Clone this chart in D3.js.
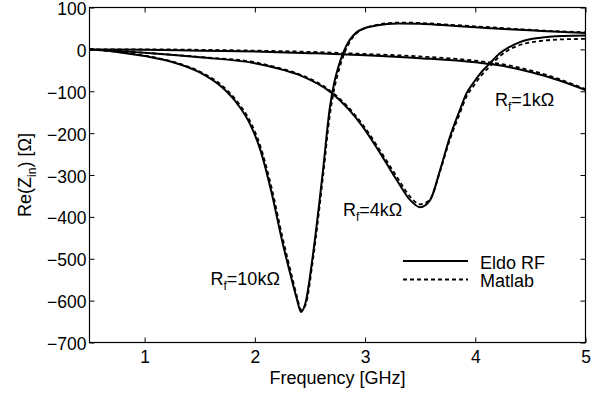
<!DOCTYPE html>
<html>
<head>
<meta charset="utf-8">
<script src="https://cdn.jsdelivr.net/npm/d3@7"></script>
<style>
  html, body { margin: 0; padding: 0; background: #fff; }
  svg text { font-family: "Liberation Sans", Arial, Helvetica, sans-serif; fill: #000; }
</style>
</head>
<body>
<svg id="chart" width="599" height="394"></svg>
<script>
// ---------------- data ----------------
const xTicks = [1, 2, 3, 4, 5];
const yTicks = [-700, -600, -500, -400, -300, -200, -100, 0, 100];

// Rf = 10 kOhm
const freq10k   = [0.5, 0.75, 1.0, 1.25, 1.5, 1.7, 1.85, 1.95, 2.05, 2.15, 2.25, 2.33, 2.38, 2.42, 2.46, 2.53, 2.62, 2.68, 2.72, 2.76, 2.81, 2.86, 2.92, 3.0, 3.1, 3.3, 3.5, 3.7, 4.0, 4.3, 4.6, 5.0];
const eldo10k   = [0, -6, -16, -30, -55, -90, -133, -175, -240, -340, -460, -545, -595, -627, -605, -485, -285, -140, -80, -40, -3, 22, 40, 51, 57, 62, 61, 58, 53, 48, 44, 39];
const matlab10k = [0, -6, -15, -29, -53, -86, -128, -168, -231, -328, -448, -535, -588, -622, -610, -497, -300, -158, -95, -52, -11, 17, 38, 51, 58, 64, 63, 60, 55, 50, 45, 41];

// Rf = 4 kOhm
const freq4k   = [0.5, 1.0, 1.5, 2.0, 2.2, 2.4, 2.7, 2.98, 3.14, 3.29, 3.41, 3.5, 3.59, 3.68, 3.77, 3.86, 3.92, 3.98, 4.05, 4.13, 4.22, 4.3, 4.41, 4.59, 4.8, 5.0];
const eldo4k   = [0, -8, -19, -33, -45, -61, -105, -185, -249, -313, -360, -377, -360, -289, -209, -145, -105, -81, -56, -34, -10, 4, 18, 28, 32, 33];
const matlab4k = [0, -8, -18, -31, -43, -59, -102, -180, -243, -305, -352, -370, -358, -292, -215, -153, -113, -89, -64, -41, -17, -2, 11, 20, 24, 25];

// Rf = 1 kOhm
const freq1k   = [0.5, 1.0, 1.5, 2.0, 2.5, 3.0, 3.5, 4.0, 4.3, 4.5, 4.75, 5.0];
const eldo1k   = [0, -1, -3, -5, -9, -14, -21, -31, -42, -54, -73, -97];
const matlab1k = [0, 0, -1, -3, -6, -11, -17, -27, -38, -50, -70, -95];

const legendLabels = ["Eldo RF", "Matlab"];

// ---------------- layout ----------------
const svg = d3.select("#chart");
const L = 89.5, R = 585.5, T = 7.5, B = 342.5;

const x = d3.scaleLinear().domain([0.5, 5]).range([L, R]);
const y = d3.scaleLinear().domain([-700, 100]).range([B, T]);

const FS = 18, TFS = 17.5;

svg.append("clipPath").attr("id", "clip")
  .append("rect").attr("x", L).attr("y", T).attr("width", R - L).attr("height", B - T);

// axes
const gB = svg.append("g").attr("transform", `translate(0,${B})`)
  .call(d3.axisBottom(x).tickValues(xTicks).tickSize(-5).tickPadding(8).tickFormat(d3.format("d")));
const gT = svg.append("g").attr("transform", `translate(0,${T})`)
  .call(d3.axisTop(x).tickValues(xTicks).tickSize(-5).tickFormat(""));
const gL = svg.append("g").attr("transform", `translate(${L},0)`)
  .call(d3.axisLeft(y).tickValues(yTicks).tickSize(-5).tickPadding(3).tickFormat(d3.format("d")));
const gR = svg.append("g").attr("transform", `translate(${R},0)`)
  .call(d3.axisRight(y).tickValues(yTicks).tickSize(-5).tickFormat(""));

[gB, gT, gL, gR].forEach(g => {
  g.select(".domain").remove();
  g.selectAll(".tick line").attr("stroke", "#000").attr("stroke-width", 1);
  g.selectAll(".tick text").attr("font-size", TFS).attr("font-family", "Liberation Sans, Arial, sans-serif");
});
gL.selectAll(".tick text").attr("dy", "0.4em");

svg.append("rect").attr("x", L).attr("y", T).attr("width", R - L).attr("height", B - T)
  .attr("fill", "none").attr("stroke", "#000").attr("stroke-width", 1.2);

// lines
const line = d3.line().x(d => x(d[0])).y(d => y(d[1])).curve(d3.curveMonotoneX);
const gLines = svg.append("g").attr("clip-path", "url(#clip)");
const series = [
  { f: freq10k, v: eldo10k, dash: null },
  { f: freq10k, v: matlab10k, dash: "4,3" },
  { f: freq4k, v: eldo4k, dash: null },
  { f: freq4k, v: matlab4k, dash: "4,3" },
  { f: freq1k, v: eldo1k, dash: null },
  { f: freq1k, v: matlab1k, dash: "4,3" }
];
series.forEach(s => {
  gLines.append("path")
    .datum(s.f.map((f, i) => [f, s.v[i]]))
    .attr("d", line)
    .attr("fill", "none")
    .attr("stroke", "#000")
    .attr("stroke-width", s.dash ? 1.8 : 2)
    .attr("stroke-dasharray", s.dash);
});

// curve labels
function rfLabel(px, py, val) {
  const t = svg.append("text").attr("x", px).attr("y", py).attr("font-size", FS);
  t.append("tspan").text("R");
  t.append("tspan").attr("font-size", 12).attr("dy", 5).text("f");
  t.append("tspan").attr("dy", -5).text("=" + val);
}
rfLabel(210.5, 285, "10kΩ");
rfLabel(343, 215.5, "4kΩ");
rfLabel(495, 106, "1kΩ");

// legend
const legY = [261, 279.5];
legendLabels.forEach((lab, i) => {
  svg.append("line").attr("x1", 403).attr("x2", 468).attr("y1", legY[i]).attr("y2", legY[i])
    .attr("stroke", "#000").attr("stroke-width", i ? 1.8 : 2)
    .attr("stroke-dasharray", i ? "4,3" : null);
  svg.append("text").attr("x", 480).attr("y", legY[i] + 7.5).attr("font-size", FS).text(lab);
});

// axis titles
svg.append("text").attr("x", (L + R) / 2).attr("y", 383.5).attr("text-anchor", "middle")
  .attr("font-size", FS).text("Frequency [GHz]");

const yl = svg.append("text").attr("transform", `translate(31,175) rotate(-90)`)
  .attr("text-anchor", "middle").attr("font-size", FS);
yl.append("tspan").text("Re(Z");
yl.append("tspan").attr("font-size", 12).attr("dy", 5).text("in");
yl.append("tspan").attr("dy", -5).text(") [Ω]");
</script>
</body>
</html>
